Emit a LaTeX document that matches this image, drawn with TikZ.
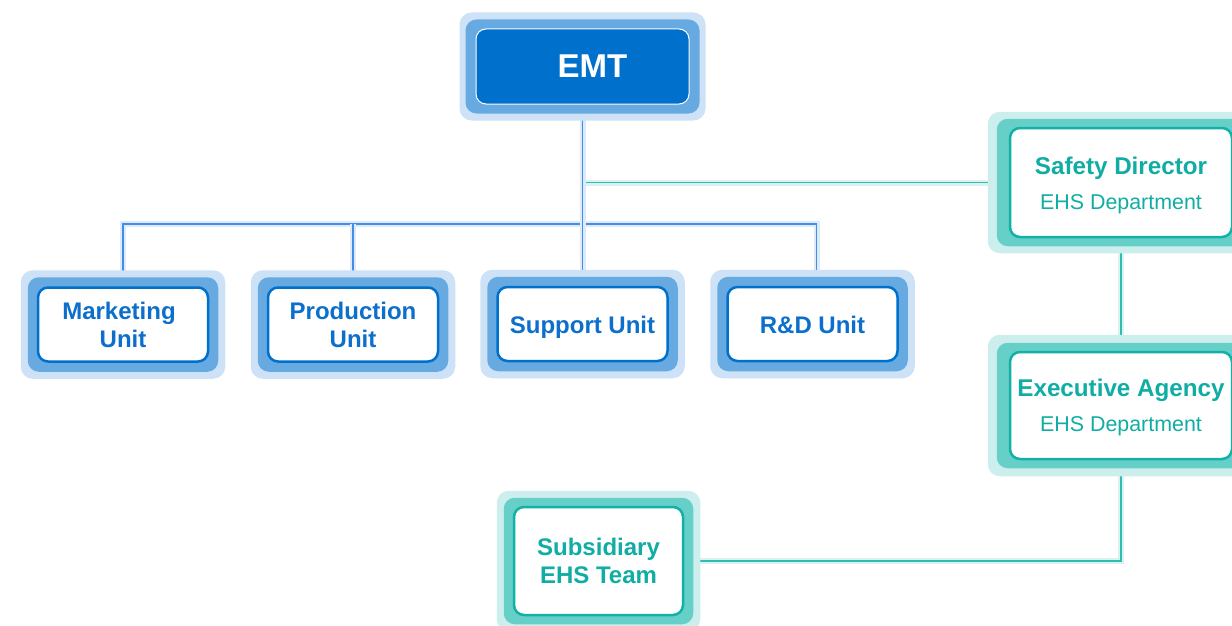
\documentclass[tikz,border=0pt]{standalone}
\usepackage{fontspec}
\setmainfont{Liberation Sans}
\usetikzlibrary{calc}
\pgfdeclarelayer{conn}
\pgfdeclarelayer{background}
\pgfsetlayers{conn,background,main}
\definecolor{bLight}{HTML}{CDE2F6}
\definecolor{bMid}{HTML}{67AAE1}
\definecolor{bDark}{HTML}{0070CD}
\definecolor{bText}{HTML}{0B6FCB}
\definecolor{bLine}{HTML}{3F8FE6}
\definecolor{bHalo}{HTML}{DCEAF9}
\definecolor{tLight}{HTML}{CCEEEC}
\definecolor{tMid}{HTML}{65CFC8}
\definecolor{tDark}{HTML}{12B1A7}
\definecolor{tText}{HTML}{10ADA4}
\definecolor{tLine}{HTML}{2DBDB3}
\definecolor{tHalo}{HTML}{DAF2F0}
\newcommand\tribox[7]{%
\begin{pgfonlayer}{background}
\fill[#2, rounded corners=12] ([shift={(-#6,-#7)}]#1.north west) rectangle ([shift={(#6,#7)}]#1.south east);
\fill[#3, rounded corners=11] ([shift={(-#4,-#5)}]#1.north west) rectangle ([shift={(#4,#5)}]#1.south east);
\end{pgfonlayer}}
\tikzset{
  emtbox/.style={draw=white, line width=1, fill=bDark, rounded corners=10, minimum width=213, minimum height=75, inner sep=0, text=white, font=\fontsize{33}{36}\selectfont\bfseries},
  unitbox/.style={draw=bDark, line width=2.5, fill=white, rounded corners=10, minimum width=170, minimum height=74, inner sep=0, align=center, text=bText, font=\fontsize{24}{28}\selectfont\bfseries},
  oneline/.style={text height=19.2, text depth=0},
  ehsbox/.style={draw=tDark, line width=2.5, fill=white, rounded corners=10, inner sep=0, align=center, text=tText, font=\fontsize{22}{35}\selectfont},
  blueconn/.style={draw=bLine, line width=1.3, preaction={draw=bHalo, line width=6}},
  tealconn/.style={draw=tLine, line width=1.3, preaction={draw=tHalo, line width=6}},
}
\begin{document}
\begin{tikzpicture}[x=1pt,y=-1pt]
\useasboundingbox (0,0) rectangle (1232,626);
\clip (0,0) rectangle (1232,626);
% nodes
\node[emtbox] (emt) at (582.5,66.5) {\hspace{20pt}EMT};
\node[unitbox] (mkt) at (123,324.5) {Marketing\hspace*{8pt}\\Unit};
\node[unitbox] (prod) at (353,324.5) {Production\\Unit};
\node[unitbox, oneline] (sup) at (582.5,324) {Support Unit};
\node[unitbox, oneline] (rd) at (812.5,324) {R\&D Unit};
\node[ehsbox, minimum width=222, minimum height=109] (sd) at (1121,182.5)
  {\rule{0pt}{22.5pt}{\fontsize{24.2}{35}\selectfont\bfseries Safety Director}\\{\fontsize{21.4}{35}\selectfont EHS Department}};
\node[ehsbox, minimum width=222, minimum height=107] (ea) at (1121,405.5)
  {\rule{0pt}{22pt}{\fontsize{24.2}{35}\selectfont\bfseries Executive Agency}\\{\fontsize{21.4}{35}\selectfont EHS Department}};
\node[ehsbox, minimum width=169, minimum height=108, font=\fontsize{24}{28}\selectfont\bfseries] (sub) at (598.5,561)
  {Subsidiary\\EHS Team};
% box frames
\tribox{emt}{bLight}{bMid}{10}{9}{16}{16}
\tribox{mkt}{bLight}{bMid}{9}{9}{16}{16}
\tribox{prod}{bLight}{bMid}{9}{9}{16}{16}
\tribox{sup}{bLight}{bMid}{9}{9}{16}{16}
\tribox{rd}{bLight}{bMid}{9}{9}{16}{16}
\tribox{sd}{tLight}{tMid}{12}{8}{21}{15}
\tribox{ea}{tLight}{tMid}{12}{8}{21}{16}
\tribox{sub}{tLight}{tMid}{9}{8}{16}{15}
% connectors
\begin{pgfonlayer}{conn}
\coordinate (bar) at (582.5,224);
\draw[blueconn] (mkt.north) -- (mkt.north |- bar) -- ([xshift=4pt]rd.north |- bar) -- ([xshift=4pt]rd.north);
\draw[blueconn] (prod.north) -- (prod.north |- bar);
\draw[tealconn] (emt.south |- sd.west) -- (sd.west);
\draw[blueconn] (emt.south) -- (sup.north);
\draw[tealconn] (sd.south) -- (ea.north);
\draw[tealconn] (ea.south) |- (sub.east);
\end{pgfonlayer}
\end{tikzpicture}
\end{document}
